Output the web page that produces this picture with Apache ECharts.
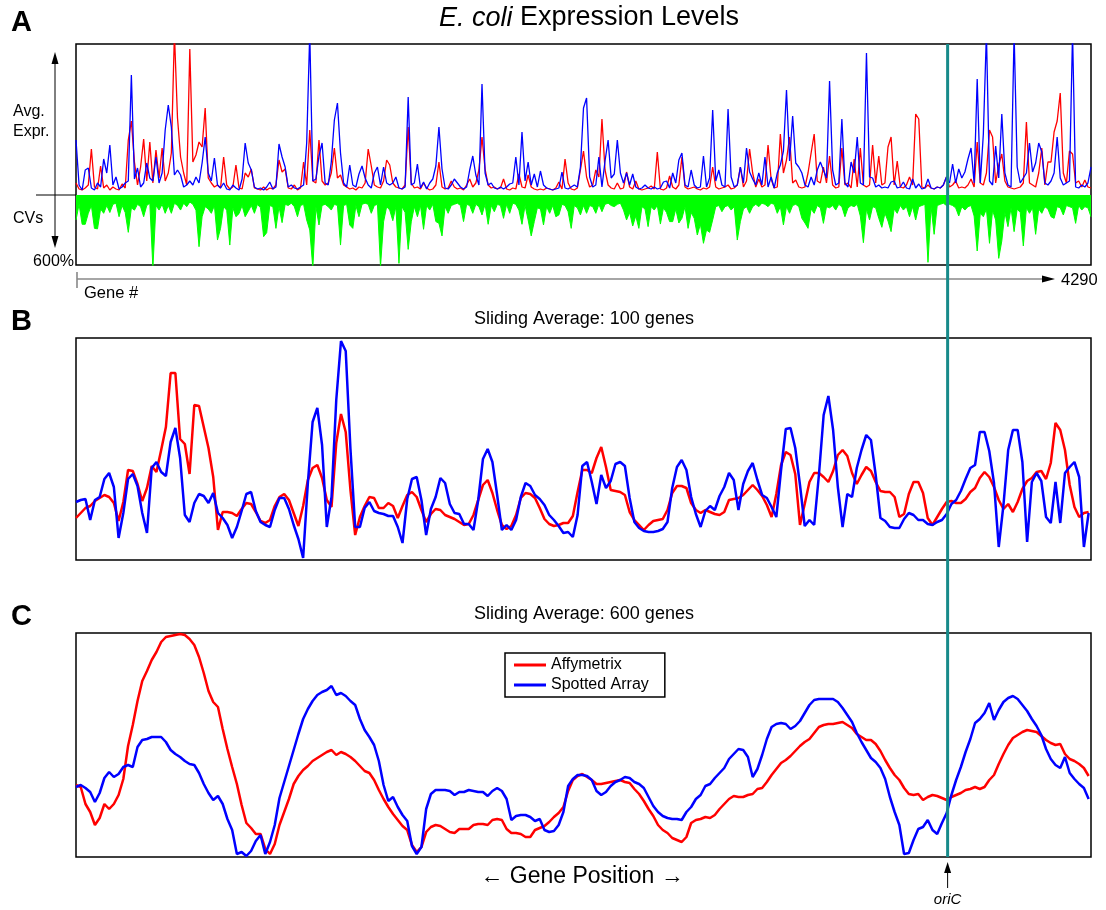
<!DOCTYPE html>
<html><head><meta charset="utf-8">
<script src="https://cdn.jsdelivr.net/npm/echarts@6.0.0/dist/echarts.min.js"></script>
<style>html,body{margin:0;padding:0;background:#fff}#c{width:1106px;height:910px}</style>
</head><body><div id="c"></div>
<script>
// ---------- data ----------
const GENE_MAX = 4290;          // last gene number
const STEP_A = 13;              // genes between samples, panel A
const STEP_BC = 20;             // genes between samples, panels B and C
const ORIC_GENE = 3684;         // position of oriC
const CV_MAX = 600;             // CV axis maximum (%)
const seriesNames = ['Affymetrix', 'Spotted Array'];
const tickLabels = { cv: '600%', gene: '4290' };

// Panel A: average expression (arbitrary units), Affymetrix
const affyExprA = [
10,4,3,5,8,44,6,4,27,5, 8,3,6,4,3,9,5,53,72,31, 8,26,54,12,51,10,43,15,45,12, 20,40,160,75,36,20,8,144,31,38, 51,46,85,15,10,6,8,5,36,8, 4,6,28,5,4,20,
16,24,5,4,3,6,3,5,4,8, 33,21,24,5,4,8,3,5,31,8, 63,12,10,53,12,8,10,20,45,15, 18,8,6,4,5,3,6,5,10,44, 27,8,6,5,12,33,28,10,6,5, 4,8,66,10,5,
6,4,10,5,3,4,8,31,6,4, 5,12,6,4,5,3,8,14,6,10, 23,56,24,8,5,6,4,5,14,4, 3,5,4,19,6,5,18,6,4,3, 4,3,5,4,3,5,11,4,34,10, 4,3,5,23,42,
16,6,8,23,16,74,23,8,5,4, 10,4,5,21,6,4,12,4,3,4, 5,7,4,41,4,3,5,17,6,4, 8,36,6,4,5,6,4,3,5,4, 6,26,6,4,5,6,8,4,5,8, 26,6,12,44,20,6,
14,6,8,48,14,5,6,59,20,33, 56,10,13,6,5,6,20,40,59,12, 10,26,10,37,8,5,6,45,8,10, 5,34,6,45,8,6,8,48,10,37, 8,10,46,56,8,32,6,5,8,16, 8,79,74,6,5,
8,5,4,6,5,8,16,6,8,12, 5,6,5,8,14,6,51,10,8,20, 63,56,10,28,39,12,6,5,4,5, 6,10,71,10,8,6,20,45,8,31, 31,61,72,100,20,10,42,39,10,12, 6,13,6,5
];
// Panel A: average expression, Spotted Array
const spotExprA = [
53,8,3,23,25,5,3,10,6,34, 20,48,8,16,4,6,10,12,118,14, 25,6,10,30,15,12,36,10,20,63, 88,66,18,23,18,6,8,12,8,16, 10,30,56,20,12,35,8,5,10,4, 3,8,5,3,14,50,
30,23,6,4,5,3,6,11,4,6, 49,36,26,6,8,5,4,6,8,50, 160,12,14,37,50,10,8,31,73,90, 40,10,6,28,8,6,19,27,15,8, 5,20,26,8,26,10,8,10,16,5, 4,6,96,8,10,
29,5,11,4,10,14,27,66,24,5, 4,8,14,10,6,4,6,23,37,18, 8,109,20,8,10,5,4,6,4,6, 9,10,36,8,61,12,31,8,19,6, 22,8,5,4,3,4,5,21,5,4, 6,8,6,26,85,
95,16,6,8,36,6,32,53,15,19, 53,20,10,20,8,19,6,4,5,8, 5,4,6,4,5,11,12,5,20,10, 33,40,8,6,23,8,5,6,37,6, 15,83,12,23,8,6,84,16,6,8, 26,10,45,21,14,8,
20,8,36,6,16,5,20,28,42,103, 32,77,30,26,20,8,6,16,8,23, 31,23,15,112,23,8,10,74,10,6, 31,20,56,10,8,140,16,15,6,8, 5,6,5,11,12,5,6,11,5,4, 14,5,9,4,5,
14,5,4,6,5,8,16,10,29,10, 24,15,21,34,45,10,114,10,59,160, 12,8,47,15,79,20,8,6,160,26, 10,15,20,50,21,30,50,41,10,8, 12,20,56,15,8,10,12,160,6,5, 8,6,10,26
];
// Panel A: coefficients of variation (%)
const cvA = [
214,80,251,251,157,90,286,290,120,157, 90,150,80,70,186,90,150,320,110,130, 80,100,186,90,70,626,90,129,80,157, 90,157,70,90,129,70,100,60,80,130, 443,186,100,120,157,90,386,286,100,130, 429,110,186,160,90,186,
140,90,157,80,110,357,323,90,100,286, 100,237,80,90,70,100,186,90,80,214, 300,626,100,257,90,80,100,129,80,90, 429,90,80,257,286,90,186,80,70,80, 157,90,80,615,230,100,129,220,100,586, 100,150,466,230,100,
186,90,294,90,129,80,228,243,351,100, 157,90,80,70,90,228,80,90,157,80, 100,171,80,251,90,143,80,90,200,80, 157,70,80,129,251,90,214,351,228,110, 120,257,100,157,90,186,171,80,90,143, 286,90,110,171,90,
157,90,100,157,80,143,80,70,90,100, 80,70,129,214,150,266,180,286,100,120, 271,100,129,90,249,110,150,228,228,120, 240,200,100,286,150,200,343,250,414,300, 320,214,100,90,143,100,90,129,100,386, 228,120,100,157,100,80,
100,70,80,100,70,80,157,100,257,100, 157,90,80,100,200,240,286,120,157,90, 110,243,100,110,90,129,80,100,186,110, 90,100,80,180,409,120,214,100,110,200, 277,157,223,314,120,157,90,129,100,186, 100,214,100,90,80,
577,100,337,90,80,70,90,80,90,110, 180,100,129,100,90,180,480,157,186,120, 414,130,214,543,394,150,271,110,314,120, 150,437,110,157,110,337,120,157,100,120, 186,200,100,110,171,90,100,110,243,90, 129,100,110,186
];

// Panel B: sliding average over 100 genes
const affyAvg100 = [
42,47,52,54,59,62,65,63,57,39, 58,90,89,76,59,72,94,88,110,133,
187,187,121,116,86,155,154,133,112,83, 30,48,48,47,44,51,57,56,48,39,
37,40,54,63,66,60,47,34,54,80, 92,95,82,60,53,117,146,128,70,25,
43,54,63,62,52,52,57,54,42,54, 65,68,63,50,38,46,51,50,45,43,
41,38,35,36,45,60,75,80,67,50, 35,31,34,45,62,67,66,62,52,41,
36,34,35,37,
37,44,68,90,90,87,102,113,93,70, 69,68,65,48,40,35,30,35,39,40,
41,50,67,74,74,72,57,50,47,50, 48,46,45,48,60,61,62,65,70,75,
70,64,55,43,66,95,108,105,86,35, 56,78,87,87,83,78,89,105,110,104,
87,76,85,93,89,78,69,68,68,63, 43,46,66,78,78,67,42,35,43,51,
58,59,57,57,61,68,72,82,88,83, 73,60,51,56,48,58,71,79,82,88,
89,81,97,137,130,110,75,53,43,47,48
];
const spotAvg100 = [
58,60,61,40,60,63,81,87,73,22, 47,81,86,74,47,27,92,98,88,84,
118,132,102,45,38,57,66,64,57,67, 47,42,35,22,33,49,66,68,49,38,
35,33,50,62,62,51,35,21,2,77, 138,152,115,33,63,160,219,209,111,33,
33,52,58,49,47,46,44,44,33,17, 61,81,83,60,25,51,63,82,77,56,
47,46,36,36,30,60,101,111,98,65, 30,35,30,40,63,77,74,65,61,55,
45,40,34,27,
28,23,45,94,98,78,56,85,72,79, 96,98,94,62,38,32,29,28,28,29,
31,38,72,93,100,90,63,46,33,49, 54,50,64,73,87,80,50,76,89,97,
80,65,62,53,43,90,131,132,112,75, 34,40,35,85,145,164,130,73,33,66,
63,92,110,125,120,85,42,39,33,32, 32,41,47,45,40,40,36,35,38,40,
46,56,60,69,81,92,95,128,128,109, 77,13,55,110,130,130,98,18,78,87,
79,43,37,78,37,87,93,98,83,13,47
];

// Panel C: sliding average over 600 genes
const affyAvg600 = [
72,70,53,45,32,39,53,48,53,62, 78,111,132,156,176,186,197,205,215,220,
221,222,223,222,218,212,200,184,166,155, 150,128,108,90,73,52,34,29,23,23,
8,3,13,32,45,58,73,81,87,91, 96,99,102,105,107,102,105,103,100,96,
91,86,84,77,67,58,50,43,37,31, 27,12,5,10,25,30,32,31,28,25,
24,28,28,28,32,33,33,32,37,38, 37,28,24,24,23,20,20,27,29,31,
35,40,44,50,
66,77,81,83,80,77,73,73,74,75, 76,77,75,74,68,63,56,48,41,32,
27,24,19,17,15,20,34,37,38,40, 39,42,48,53,58,61,60,60,62,63,
68,69,75,82,88,94,97,101,106,111, 115,118,124,130,132,133,133,134,135,132,
129,123,120,117,117,113,106,97,89,82, 77,69,63,62,63,57,60,62,61,59,
57,60,62,64,67,68,70,68,70,77, 82,93,103,112,119,122,125,127,126,125,
121,117,114,112,113,103,98,96,93,89,81
];
const spotAvg600 = [
70,72,69,65,55,64,79,85,80,83, 90,92,90,110,117,118,120,120,120,115,
107,103,100,96,93,92,84,73,64,57, 61,53,38,27,3,5,1,6,16,22,
3,15,32,59,75,91,107,123,138,148, 156,162,165,167,171,162,164,161,156,152,
138,127,120,112,96,72,56,60,50,42, 36,11,3,10,48,63,67,67,67,66,
62,65,65,67,66,65,65,61,66,69, 66,58,37,41,42,42,40,36,38,27,
25,26,32,45,
71,78,82,82,81,77,66,62,65,71, 75,77,80,79,75,73,69,60,51,45,
41,39,38,38,37,45,50,58,62,71, 73,79,84,89,98,103,108,107,100,80,
88,102,118,130,133,134,133,128,131,136, 144,152,157,158,158,158,158,155,149,142,
135,124,115,107,99,95,89,78,60,45, 32,3,4,17,28,30,37,27,23,34,
44,62,77,90,105,118,134,138,144,154, 137,147,155,159,161,158,152,146,138,131,
122,108,98,92,89,100,84,78,73,69,58
];

// ---------- chart ----------
const FONT = "'Liberation Sans', Arial, Helvetica, sans-serif";
const RED = '#ff0000', BLUE = '#0000ff', GREEN = '#00ff00', TEAL = '#178a8a';
const pts = (arr, step) => arr.map((v, i) => [i * step, v]);

const chart = echarts.init(document.getElementById('c'), null, { renderer: 'canvas' });

const L = 76, W = 1015;
const frame = { show: true, borderColor: '#000', borderWidth: 1.5, backgroundColor: 'transparent' };
const xa = (g) => ({ type: 'value', gridIndex: g, min: 0, max: GENE_MAX, show: false });
const ya = (g, max, inv) => ({ type: 'value', gridIndex: g, min: 0, max: max, inverse: !!inv, show: false });
const lineS = (name, xi, data, color, width, z) => ({
  type: 'line', name, xAxisIndex: xi, yAxisIndex: xi, data,
  symbol: 'none', showSymbol: false, clip: true, z,
  lineStyle: { color, width, join: 'bevel' }, itemStyle: { color }
});

chart.setOption({
  animation: false,
  backgroundColor: '#fff',
  grid: [
    { left: L, top: 44, width: W, height: 149 },
    { left: L, top: 195, width: W, height: 70 },
    Object.assign({ left: L, top: 44, width: W, height: 221 }, frame),
    Object.assign({ left: L, top: 338, width: W, height: 222 }, frame),
    Object.assign({ left: L, top: 633, width: W, height: 224 }, frame)
  ],
  xAxis: [xa(0), xa(1), xa(2), xa(3), xa(4)],
  yAxis: [ya(0, 149), ya(1, CV_MAX, true), ya(2, 1), ya(3, 222), ya(4, 224)],
  legend: {
    data: seriesNames, orient: 'vertical', left: 505, top: 653,
    icon: 'rect', itemWidth: 32, itemHeight: 3, itemGap: 4,
    padding: [4, 16, 4, 9], borderColor: '#000', borderWidth: 1.5,
    backgroundColor: '#fff', selectedMode: false,
    textStyle: { fontFamily: FONT, fontSize: 16, color: '#000' }
  },
  series: [
    lineS(seriesNames[0], 0, pts(affyExprA, STEP_A), RED, 1.3, 2),
    lineS(seriesNames[1], 0, pts(spotExprA, STEP_A), BLUE, 1.3, 3),
    Object.assign(lineS('CV', 1, pts(cvA, STEP_A), GREEN, 1, 2), { areaStyle: { color: GREEN, opacity: 1 } }),
    lineS(seriesNames[0], 3, pts(affyAvg100, STEP_BC), RED, 2.5, 2),
    lineS(seriesNames[1], 3, pts(spotAvg100, STEP_BC), BLUE, 2.5, 3),
    lineS(seriesNames[0], 4, pts(affyAvg600, STEP_BC), RED, 2.5, 2),
    lineS(seriesNames[1], 4, pts(spotAvg600, STEP_BC), BLUE, 2.5, 3)
  ]
});

// decorations, positioned from the axes where they relate to data
const oriX = chart.convertToPixel({ xAxisIndex: 0 }, ORIC_GENE);
const topA = chart.convertToPixel({ yAxisIndex: 0 }, 149);
const botC = chart.convertToPixel({ yAxisIndex: 4 }, 0);
const zeroY = 195;

const txt = (text, x, y, size, opts) => Object.assign({
  type: 'text', z: 50,
  style: Object.assign({ text, x, y, fontFamily: FONT, fontSize: size, fill: '#000',
    align: 'left', verticalAlign: 'middle', textAlign: 'left', textVerticalAlign: 'middle' }, opts || {})
});
const ctr = { align: 'center', textAlign: 'center' };
const seg = (x1, y1, x2, y2, color, w) => ({ type: 'line', z: 40, shape: { x1, y1, x2, y2 }, style: { stroke: color, lineWidth: w } });
const tri = (points, color) => ({ type: 'polygon', z: 41, shape: { points }, style: { fill: color } });

chart.setOption({
  graphic: [
    txt('A', 11, 23, 29, { fontWeight: 'bold' }),
    txt('B', 11, 322, 29, { fontWeight: 'bold' }),
    txt('C', 11, 617, 29, { fontWeight: 'bold' }),
    txt('{i|E. coli} Expression Levels', 589, 18, 27, Object.assign({
      rich: { i: { fontStyle: 'italic', fontFamily: FONT, fontSize: 27, fill: '#000' } } }, ctr)),
    txt('Avg.', 13, 112, 16),
    txt('Expr.', 13, 132, 16),
    txt('CVs', 13, 219, 16),
    txt(tickLabels.cv, 74, 262, 16, { align: 'right', textAlign: 'right' }),
    seg(36, zeroY, L, zeroY, '#000', 1),
    seg(55, 62, 55, 238, '#000', 1),
    tri([[55, 52], [51.5, 64], [58.5, 64]], '#000'),
    tri([[55, 248], [51.5, 236], [58.5, 236]], '#000'),
    seg(L + 1, 279, 1043, 279, '#888', 1.6),
    seg(L + 1, 272, L + 1, 288, '#888', 1.6),
    tri([[1055, 279], [1042, 275.5], [1042, 282.5]], '#000'),
    txt('Gene #', 84, 293, 16.5),
    txt(tickLabels.gene, 1061, 280, 16.5),
    txt('Sliding Average: 100 genes', 584, 319, 18, ctr),
    txt('Sliding Average: 600 genes', 584, 614, 18, ctr),
    txt('\u2190 Gene Position \u2192', 582, 877, 23, ctr),
    seg(oriX, topA, oriX, botC, TEAL, 3),
    seg(oriX, 872, oriX, 888, '#000', 1),
    tri([[oriX, 862], [oriX - 3.5, 873], [oriX + 3.5, 873]], '#000'),
    txt('oriC', oriX, 900, 15, Object.assign({ fontStyle: 'italic' }, ctr))
  ]
});
</script></body></html>
